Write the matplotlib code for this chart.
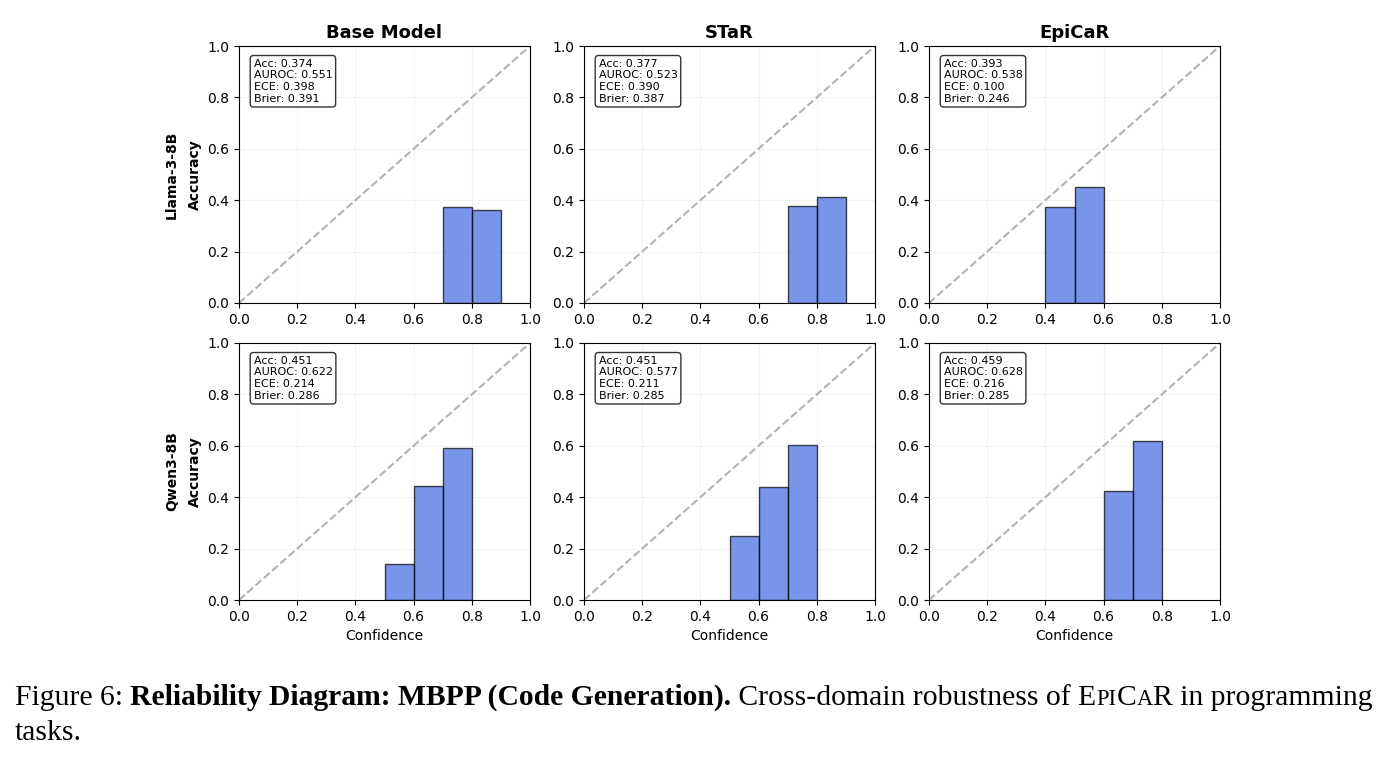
import numpy as np
import matplotlib.pyplot as plt

models = ["Llama-3-8B", "Qwen3-8B"]
methods = ["Base Model", "STaR", "EpiCaR"]

# bin lower edges and accuracies per (model, method)
bin_starts = {
    ("Llama-3-8B", "Base Model"): [0.7, 0.8],
    ("Llama-3-8B", "STaR"): [0.7, 0.8],
    ("Llama-3-8B", "EpiCaR"): [0.4, 0.5],
    ("Qwen3-8B", "Base Model"): [0.5, 0.6, 0.7],
    ("Qwen3-8B", "STaR"): [0.5, 0.6, 0.7],
    ("Qwen3-8B", "EpiCaR"): [0.6, 0.7],
}
bin_acc = {
    ("Llama-3-8B", "Base Model"): [0.375, 0.363],
    ("Llama-3-8B", "STaR"): [0.377, 0.411],
    ("Llama-3-8B", "EpiCaR"): [0.373, 0.451],
    ("Qwen3-8B", "Base Model"): [0.141, 0.445, 0.590],
    ("Qwen3-8B", "STaR"): [0.248, 0.441, 0.605],
    ("Qwen3-8B", "EpiCaR"): [0.423, 0.619],
}
metrics = {
    ("Llama-3-8B", "Base Model"): [0.374, 0.551, 0.398, 0.391],
    ("Llama-3-8B", "STaR"): [0.377, 0.523, 0.390, 0.387],
    ("Llama-3-8B", "EpiCaR"): [0.393, 0.538, 0.100, 0.246],
    ("Qwen3-8B", "Base Model"): [0.451, 0.622, 0.214, 0.286],
    ("Qwen3-8B", "STaR"): [0.451, 0.577, 0.211, 0.285],
    ("Qwen3-8B", "EpiCaR"): [0.459, 0.628, 0.216, 0.285],
}
metric_names = ["Acc", "AUROC", "ECE", "Brier"]
ticks = [0.0, 0.2, 0.4, 0.6, 0.8, 1.0]

fig = plt.figure(figsize=(13.92, 7.62), dpi=100)

lefts = [239, 584, 929]
tops = [46, 343]
w, h = 291, 257
W, H = 1392, 762

for i, model in enumerate(models):
    for j, method in enumerate(methods):
        ax = fig.add_axes([lefts[j] / W, 1 - (tops[i] + h) / H, w / W, h / H])
        key = (model, method)
        ax.plot([0, 1], [0, 1], "--", color="gray", alpha=0.6, lw=1.5, zorder=1)
        ax.bar(bin_starts[key], bin_acc[key], width=0.1, align="edge",
               color="royalblue", alpha=0.7, edgecolor="black", lw=1, zorder=2)
        ax.set_xlim(0, 1)
        ax.set_ylim(0, 1)
        ax.set_xticks(ticks)
        ax.set_yticks(ticks)
        ax.tick_params(labelsize=10)
        ax.grid(True, alpha=0.15)
        txt = "\n".join("%s: %.3f" % (n, v) for n, v in zip(metric_names, metrics[key]))
        ax.text(0.05, 0.95, txt, transform=ax.transAxes, fontsize=8, va="top",
                bbox=dict(boxstyle="round,pad=0.3", facecolor="white", edgecolor="black", alpha=0.8))
        if i == 0:
            ax.set_title(method, fontsize=13, fontweight="bold", pad=6)
        else:
            ax.set_xlabel("Confidence", fontsize=10)
        if j == 0:
            ax.set_ylabel("Accuracy", fontsize=10, fontweight="bold")
            fig.text(172 / W, 1 - (tops[i] + h / 2) / H, model, rotation=90,
                     fontsize=10, fontweight="bold", ha="center", va="center")

# caption
serif = "Liberation Serif"
fig.canvas.draw()
renderer = fig.canvas.get_renderer()

def put(x, y, s, **kw):
    t = fig.text(x / W, 1 - y / H, s, family=serif, va="baseline", **kw)
    bb = t.get_window_extent(renderer)
    return x + bb.width

fs, sc = 21.3, 16.3
y1 = 705
x = 15
x = put(x, y1, "Figure 6: ", fontsize=fs)
x = put(x, y1, "Reliability Diagram: MBPP (Code Generation).", fontsize=fs, fontweight="bold")
x = put(x, y1, " Cross-domain robustness of E", fontsize=fs)
x = put(x, y1, "PI", fontsize=sc)
x = put(x, y1, "C", fontsize=fs)
x = put(x, y1, "A", fontsize=sc)
x = put(x, y1, "R in programming", fontsize=fs)
put(15, 740, "tasks.", fontsize=fs)

fig.savefig("out.png", dpi=100)
